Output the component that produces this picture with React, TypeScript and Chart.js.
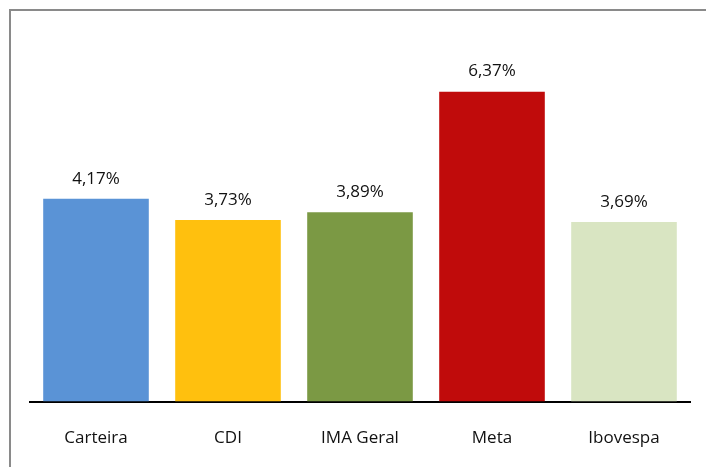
import React, { useEffect, useRef } from "react";
import { Chart, registerables } from "chart.js";

Chart.register(...registerables);

const categories = ["Carteira", "CDI", "IMA Geral", "Meta", "Ibovespa"];
const values = [4.17, 3.73, 3.89, 6.37, 3.69];
const colors = ["#5A93D6", "#FFC00E", "#7B9944", "#C00B0B", "#D9E5C2"];

const fmt = (v: number) => v.toFixed(2).replace(".", ",") + "%";

const framePlugin = {
  id: "frame",
  beforeDraw(chart: any) {
    const ctx = chart.ctx;
    ctx.save();
    ctx.fillStyle = "#fff";
    ctx.fillRect(0, 0, chart.width, chart.height);
    ctx.fillStyle = "#8a8a8a";
    ctx.fillRect(9, 9, 2, chart.height);
    ctx.fillRect(9, 9, chart.width - 9, 2);
    ctx.restore();
  },
};

const labelPlugin = {
  id: "valueLabels",
  afterDatasetsDraw(chart: any) {
    const ctx = chart.ctx;
    const meta = chart.getDatasetMeta(0);
    ctx.save();
    ctx.font = "17px 'Open Sans'";
    ctx.fillStyle = "#111";
    ctx.textAlign = "center";
    ctx.textBaseline = "middle";
    meta.data.forEach((bar: any, i: number) => {
      ctx.fillText(fmt(values[i]), bar.x, bar.y - 20);
    });
    ctx.restore();
  },
};

export default function App() {
  const ref = useRef<HTMLCanvasElement>(null);
  useEffect(() => {
    document.body.style.margin = "0";
    document.body.style.overflow = "hidden";
    const chart = new Chart(ref.current!, {
      type: "bar",
      data: {
        labels: categories,
        datasets: [
          {
            data: values,
            backgroundColor: colors,
            barPercentage: 0.8,
            categoryPercentage: 1,
          },
        ],
      },
      options: {
        animation: false,
        responsive: false,
        maintainAspectRatio: false,
        layout: { padding: { left: 30, right: 16, top: 61, bottom: 0 } },
        plugins: { legend: { display: false }, tooltip: { enabled: false } },
        scales: {
          x: {
            grid: { display: false, drawTicks: false },
            border: { display: true, color: "#000", width: 2 },
            ticks: {
              color: "#111",
              font: { family: "'Open Sans'", size: 17 },
              padding: 26,
            },
          },
          y: { display: false, min: 0, max: 7 },
        },
      },
      plugins: [framePlugin, labelPlugin],
    });
    return () => chart.destroy();
  }, []);
  return (
    <div style={{ position: "relative", width: 706, height: 467, overflow: "hidden", background: "#fff" }}>
      <canvas ref={ref} width={706} height={474} style={{ display: "block" }} />
    </div>
  );
}
